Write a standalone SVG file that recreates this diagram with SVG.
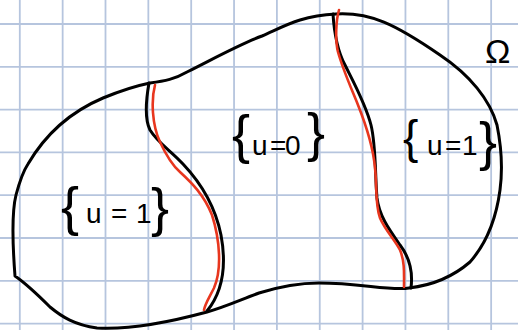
<svg xmlns="http://www.w3.org/2000/svg" width="518" height="330" viewBox="0 0 518 330">
<style>
.grid{stroke:#b6c5de;stroke-width:1.8;fill:none}
.blk{stroke:#000;stroke-width:3;fill:none;stroke-linecap:round;stroke-linejoin:round}
.red{stroke:#e8361e;stroke-width:2.6;fill:none;stroke-linecap:round;stroke-linejoin:round}
text{font-family:"Liberation Sans","DejaVu Sans",sans-serif;fill:#000}
.br{font-size:54px}
.in{font-size:28px}
</style>
<rect x="0" y="0" width="518" height="330" fill="#fff"/>
<g id="grid">
<path class="grid" d="M19.8 0V330M62.65 0V330M105.5 0V330M148.35 0V330M191.2 0V330M234.05 0V330M276.9 0V330M319.75 0V330M362.6 0V330M405.45 0V330M448.3 0V330M491.15 0V330"/>
<path class="grid" d="M0 24H518M0 66.8H518M0 109.6H518M0 152.4H518M0 195.2H518M0 238H518M0 280.8H518M0 323.6H518"/>
</g>
<g id="domain">
<path class="blk" d="M15,276 C13,250 11,215 16,195 C20,180 24,170 28,164 C45,135 70,112 103,98 C125,89 140,85 150,83 C165,81 175,79 187,72 C215,58 240,44 262,36 C285,26 300,16 336,14 C370,12 395,24 440,55 C470,75 490,100 497,125 C502,150 502,175 500,190 C496,220 485,245 470,262 C455,275 435,285 409,288 C390,291 360,283 319,283 C295,283 275,288 259,293 C240,300 225,307 207,312 C170,322 130,330 97,328 C75,325 62,317 50,307 C40,297 28,285 15,276 Z"/>
</g>
<g id="connectors">
<path class="blk" d="M149,83 C146,100 145,120 150,130 C158,143 170,150 183,164 C200,182 215,205 221,235 C226,262 224,290 207,311"/>
<path class="red" d="M155,85 C151,100 152,125 160,142 C166,155 172,165 180,172 C192,183 204,195 212,215 C220,240 222,270 214,288 C209,298 205,304 204,310"/>
<path class="blk" d="M333,14 C334,30 336,48 345,65 C355,85 366,105 371,125 C376,145 375,175 377,198 C379,215 388,228 400,245 C410,258 413,272 411,288"/>
<path class="red" d="M339,10 C336,20 335,40 338,52 C343,70 352,90 358,105 C366,125 373,145 375,168 C377,185 375,205 380,218 C385,230 395,240 400,250 C405,262 404,275 404,287"/>
</g>
<g id="label-left">
<text class="br" x="61" y="225">{</text>
<text class="in" x="86 111 136" y="223">u=1</text>
<text class="br" x="151" y="226">}</text>
</g>
<g id="label-mid">
<text class="br" x="232" y="153">{</text>
<text class="in" x="252 270 285" y="155">u=0</text>
<text class="br" x="307" y="151">}</text>
</g>
<g id="label-right">
<text class="br" x="403" y="153" style="font-size:46px">{</text>
<text class="in" x="427 445 462" y="155">u=1</text>
<text class="br" x="479" y="160">}</text>
</g>
<g id="omega">
<text x="485" y="63" style="font-size:34px">Ω</text>
</g>
</svg>
